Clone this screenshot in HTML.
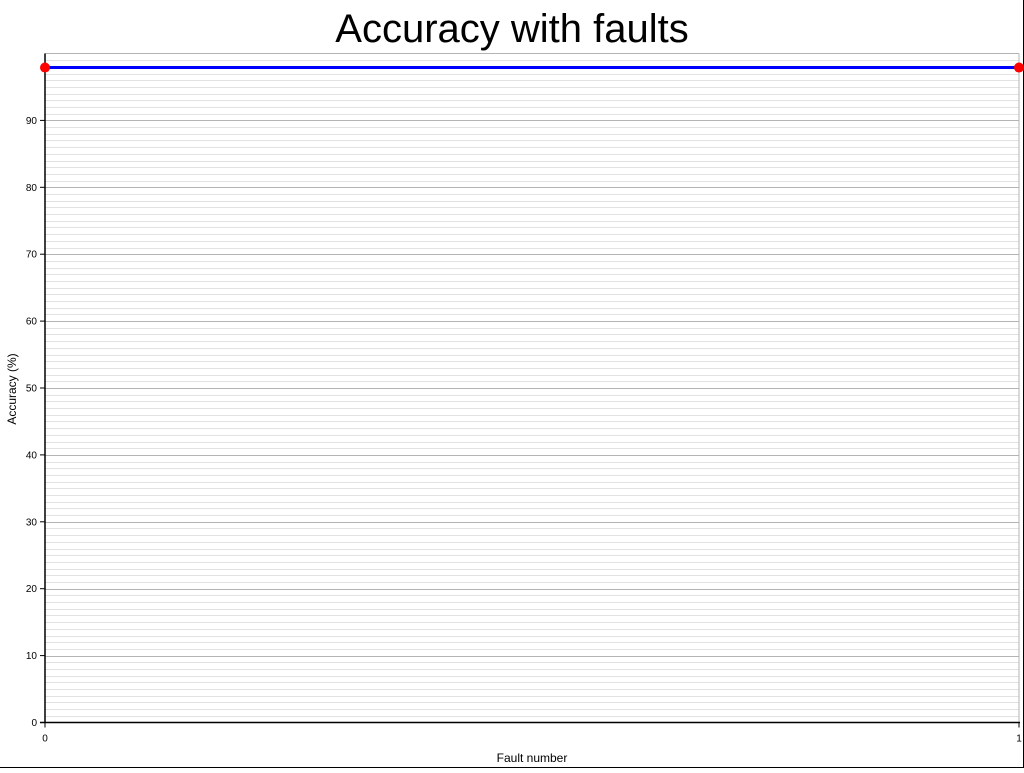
<!DOCTYPE html>
<html><head><meta charset="utf-8"><style>
body{margin:0;background:#fff;width:1024px;height:768px;overflow:hidden;font-family:"Liberation Sans",sans-serif}
</style></head><body>
<svg id="chart" width="1024" height="768" xmlns="http://www.w3.org/2000/svg" font-family="Liberation Sans, sans-serif">
<line x1="1023.5" y1="0" x2="1023.5" y2="768" stroke="#000"/>
<line x1="0" y1="767.5" x2="1024" y2="767.5" stroke="#000"/>
<text x="512" y="42" font-size="40" text-anchor="middle">Accuracy with faults</text>
<g id="grid"></g>
<g id="axes"></g>
<g id="marks"></g>
<text x="532" y="762" font-size="12" text-anchor="middle">Fault number</text>
<text transform="translate(16,389) rotate(-90)" font-size="12" text-anchor="middle">Accuracy (%)</text>
</svg>
<script>
const faults=[0,1];
const accuracy=[97.9,97.9];
const yTicks=[0,10,20,30,40,50,60,70,80,90];
const xTicks=[0,1];
const NS="http://www.w3.org/2000/svg";
const L=45,R=1019,T=53.5,B=722.5;
const xs=v=>L+(v-0)/(1-0)*(R-L);
const ys=v=>B-v/100*(B-T);
function mk(p,tag,a){const e=document.createElementNS(NS,tag);for(const k in a)e.setAttribute(k,a[k]);p.appendChild(e);return e;}
const g=document.getElementById('grid'),ax=document.getElementById('axes'),m=document.getElementById('marks');
for(let v=1;v<100;v++){
  const y=Math.round(ys(v))+0.5;
  const l=mk(g,'line',{x1:L,x2:R,y1:y,y2:y,stroke:v%10===0?'#b4b4b4':'#e2e2e2','stroke-width':1});
  
  
}
const plotTop=mk(g,'line',{x1:L,x2:R,y1:T,y2:T,stroke:'#b4b4b4'});


const rb=mk(g,'line',{x1:R,x2:R,y1:T,y2:B,stroke:'#b4b4b4'});


const ya=mk(ax,'line',{x1:L,x2:L,y1:T,y2:B,stroke:'#000','stroke-width':1.5});


const xa=mk(ax,'line',{x1:L-5,x2:R+1,y1:B,y2:B,stroke:'#000','stroke-width':1.5});


yTicks.forEach(v=>{
  const y=ys(v);
  const t=mk(ax,'line',{x1:L-5,x2:L,y1:y,y2:y,stroke:'#000'});
  
  
  const tx=mk(ax,'text',{x:L-8,y:y+3.5,'font-size':10,'text-anchor':'end'});tx.textContent=v;
  
  
});
xTicks.forEach(v=>{
  const x=xs(v);
  const t=mk(ax,'line',{x1:x,x2:x,y1:B,y2:B+5,stroke:'#000'});
  
  
  const tx=mk(ax,'text',{x:x,y:B+19,'font-size':10,'text-anchor':'middle'});tx.textContent=v;
  
  
});
const pl=mk(m,'polyline',{points:faults.map((f,i)=>xs(f)+','+ys(accuracy[i])).join(' '),fill:'none',stroke:'#0000ff','stroke-width':3});


faults.forEach((f,i)=>{
  const c=mk(m,'circle',{cx:xs(f),cy:ys(accuracy[i]),r:5,fill:'#ff0000'});
  
  
});
</script>
</body></html>
